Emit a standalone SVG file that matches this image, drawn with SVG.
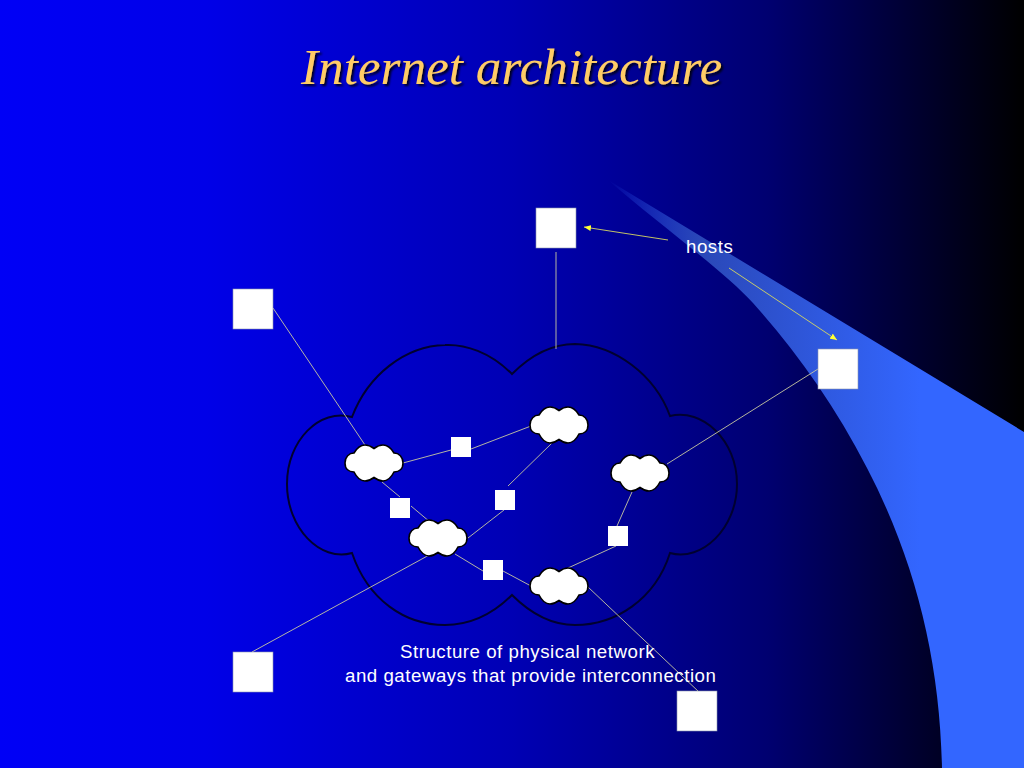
<svg xmlns="http://www.w3.org/2000/svg" xmlns:xlink="http://www.w3.org/1999/xlink" width="1024" height="768" viewBox="0 0 1024 768">
<style>
.big{fill:#fff;stroke:#8a94b0;stroke-width:.6}
.small{fill:#fff}
.cl{fill:#fff;stroke:#000;stroke-width:1.6}
.ln{stroke:#c8c8a0;stroke-width:.9;fill:none}
.ar{stroke:#d8d860;stroke-width:.9;fill:none;marker-end:url(#ah)}
.t{font-family:"Liberation Sans",Arial,sans-serif;font-size:18.7px;letter-spacing:.52px;fill:#fff}
</style>
<defs>
<linearGradient id="bg" x1="0" y1="0" x2="1024" y2="0" gradientUnits="userSpaceOnUse">
<stop offset="0" stop-color="#0000f6"/><stop offset=".2" stop-color="#0000e8"/><stop offset=".5" stop-color="#0000b4"/><stop offset=".75" stop-color="#000070"/><stop offset="1" stop-color="#000000"/>
</linearGradient>
<linearGradient id="sw" x1="608" y1="0" x2="920" y2="0" gradientUnits="userSpaceOnUse">
<stop offset="0" stop-color="#3366ff" stop-opacity="0"/><stop offset=".3" stop-color="#2a48b8"/><stop offset="1" stop-color="#3366ff"/>
</linearGradient>
<marker id="ah" markerWidth="8" markerHeight="6" refX="7" refY="3" orient="auto" markerUnits="userSpaceOnUse"><path d="M0,0L7,3L0,6z" fill="#ffff33"/></marker>
<path id="c" class="cl" d="M-20,-10C-17,-15 -13,-18 -9,-18C-5,-18 -2,-16 0,-14.500C2,-16 5,-18 9,-18C13,-18 17,-15 20,-10C25,-10 29,-6 29,0C29,6 25,9 20,9C17,15 13,18 9,18C5,18 2,16 0,14.500C-2,16 -5,18 -9,18C-13,18 -17,15 -20,9C-25,9 -29,6 -29,0C-29,-6 -25,-10 -20,-10Z"/>
<filter id="sh" x="-5%" y="-20%" width="110%" height="140%"><feDropShadow dx="2" dy="2" stdDeviation=".8" flood-color="#000" flood-opacity=".85"/></filter>
</defs>
<rect width="1024" height="768" fill="url(#bg)"/>
<path id="swoosh" fill="url(#sw)" d="M608,180L1024,432V768H942C940,660 915,560 867,468C835,405 795,350 753,303C725,272 660,225 608,180Z"/>
<text id="title" x="301" y="84" font-family="'Liberation Serif','Times New Roman',serif" font-style="italic" font-size="51.200" fill="#ffcc66" filter="url(#sh)">Internet architecture</text>
<g id="network-cloud"><path fill="none" stroke="#000030" stroke-width="2" d="M512,374C490,352 465,344 445,345C405,346 368,375 352,417C320,408 287,440 287,484C287,528 320,562 352,553C368,600 405,625 445,625C470,625 492,615 512,595C532,615 552,625 575,625C615,625 655,600 670,553C702,562 737,528 737,484C737,440 702,408 670,416C655,375 615,345 575,344C552,344 532,354 512,374Z"/></g>
<g id="connectors">
<path class="ln" d="M273,308L365,445"/><path class="ln" d="M556,252V349"/><path class="ln" d="M667,464L818,369"/><path class="ln" d="M431,554L252,652"/><path class="ln" d="M588,587L699,692"/>
<path class="ln" d="M403,463L451,450"/><path class="ln" d="M471,449L531,426"/><path class="ln" d="M382,482L400,497"/><path class="ln" d="M411,506L430,522"/>
<path class="ln" d="M552,443L508,486"/><path class="ln" d="M504,510L468,538"/><path class="ln" d="M632,492L617,526"/><path class="ln" d="M616,546L568,568"/>
<path class="ln" d="M455,554L483,571"/><path class="ln" d="M503,571L531,586"/>
<path class="ar" d="M668,240L584,227"/><path class="ar" d="M729,268L837,340"/>
</g>
<g id="gw1"><use xlink:href="#c" href="#c" x="374" y="463"/></g>
<g id="gw2"><use xlink:href="#c" href="#c" x="559" y="425"/></g>
<g id="gw3"><use xlink:href="#c" href="#c" x="640" y="473"/></g>
<g id="gw4"><use xlink:href="#c" href="#c" x="438" y="538"/></g>
<g id="gw5"><use xlink:href="#c" href="#c" x="559" y="586"/></g>
<g id="r1"><rect class="small" x="451" y="437" width="20" height="20"/></g>
<g id="r2"><rect class="small" x="390" y="498" width="20" height="20"/></g>
<g id="r3"><rect class="small" x="495" y="490" width="20" height="20"/></g>
<g id="r4"><rect class="small" x="608" y="526" width="20" height="20"/></g>
<g id="r5"><rect class="small" x="483" y="560" width="20" height="20"/></g>
<g id="h1"><rect class="big" x="536" y="208" width="40" height="40"/></g>
<g id="h2"><rect class="big" x="233" y="289" width="40" height="40"/></g>
<g id="h3"><rect class="big" x="818" y="349" width="40" height="40"/></g>
<g id="h4"><rect class="big" x="233" y="652" width="40" height="40"/></g>
<g id="h5"><rect class="big" x="677" y="691" width="40" height="40"/></g>
<text id="hosts" class="t" x="686" y="252.500">hosts</text>
<text id="caption" class="t"><tspan x="400" y="658">Structure of physical network</tspan><tspan x="345" y="682">and gateways that provide interconnection</tspan></text>
</svg>
